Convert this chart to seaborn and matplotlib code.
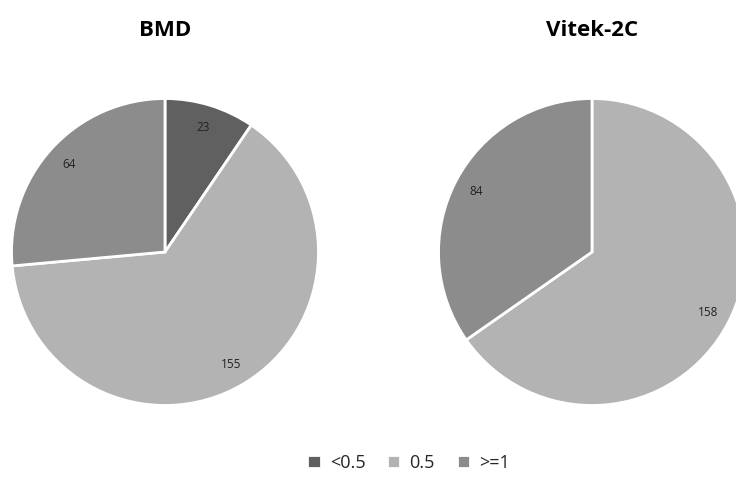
import matplotlib
matplotlib.use("Agg")
import matplotlib.pyplot as plt
import seaborn as sns

categories = ["<0.5", "0.5", ">=1"]
bmd_values = [23, 155, 64]
vitek_values = [0, 158, 84]
titles = ["BMD", "Vitek-2C"]

sns.set_theme(style="white")
plt.rcParams["font.family"] = ["Open Sans", "DejaVu Sans"]
colors = sns.color_palette(["#606060", "#b3b3b3", "#8c8c8c"])

W, H = 736, 483
fig = plt.figure(figsize=(W / 100, H / 100), dpi=100)


def draw_pie(cx, cy, r, values, title):
    ax = fig.add_axes([(cx - r) / W, (H - cy - r) / H, 2 * r / W, 2 * r / H])
    labels = [str(v) if v > 0 else "" for v in values]
    wedges, texts = ax.pie(
        values,
        labels=labels,
        labeldistance=0.85,
        colors=colors,
        startangle=90,
        counterclock=False,
        wedgeprops={"edgecolor": "white", "linewidth": 2},
        textprops={"fontsize": 8.5, "color": "#222222"},
    )
    for t in texts:
        t.set_ha("center")
    ax.set_xlim(-1.01, 1.01)
    ax.set_ylim(-1.01, 1.01)
    ax.set_aspect("equal")
    fig.text(cx / W, 1 - 30 / H, title, ha="center", va="center",
             fontsize=16, fontweight="bold", color="black")
    return wedges


wedges = draw_pie(165, 252, 155, bmd_values, titles[0])
draw_pie(592, 252, 155, vitek_values, titles[1])

fig.legend(wedges, categories, loc="center", bbox_to_anchor=(0.555, 1 - 463 / H),
           ncol=3, frameon=False, fontsize=13, handlelength=0.75, handleheight=0.75,
           columnspacing=1.2, handletextpad=0.5)

fig.savefig("out.png", dpi=100)
